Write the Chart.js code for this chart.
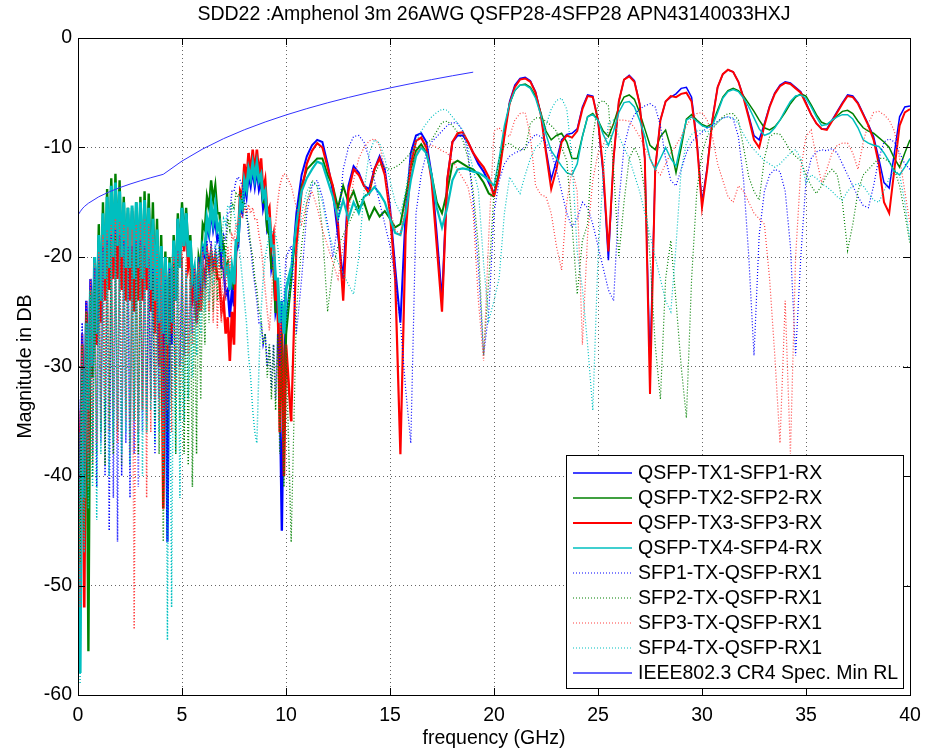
<!DOCTYPE html>
<html>
<head>
<meta charset="utf-8">
<title>SDD22 return loss</title>
<script src="https://cdn.jsdelivr.net/npm/chart.js@4.4.1/dist/chart.umd.min.js"></script>
<style>
  html, body { margin: 0; padding: 0; background: #fff; }
  canvas { display: block; }
</style>
</head>
<body>
<canvas id="rl" width="937" height="750"></canvas>
<script>
// ---------------------------------------------------------------
// SDD22 plot - values
// ---------------------------------------------------------------

const titleText = "SDD22 :Amphenol 3m 26AWG QSFP28-4SFP28 APN43140033HXJ";
const xLabel = "frequency (GHz)";
const yLabel = "Magnitude in DB";

const xTicks = [0, 5, 10, 15, 20, 25, 30, 35, 40];
const yTicks = [0, -10, -20, -30, -40, -50, -60];

const labels = [
  "QSFP-TX1-SFP1-RX", "QSFP-TX2-SFP2-RX", "QSFP-TX3-SFP3-RX", "QSFP-TX4-SFP4-RX",
  "SFP1-TX-QSFP-RX1", "SFP2-TX-QSFP-RX1", "SFP3-TX-QSFP-RX1", "SFP4-TX-QSFP-RX1",
  "IEEE802.3 CR4 Spec. Min RL"
];

// frequency grid (GHz)
const freqLow = [
  0, 0.1, 0.2, 0.3, 0.4, 0.5, 0.6, 0.7, 0.8, 0.9,
  1, 1.1, 1.2, 1.3, 1.4, 1.5, 1.6, 1.7, 1.8, 1.9,
  2, 2.1, 2.2, 2.3, 2.4, 2.5, 2.6, 2.7, 2.8, 2.9,
  3, 3.1, 3.2, 3.3, 3.4, 3.5, 3.6, 3.7, 3.8, 3.9,
  4, 4.1, 4.2, 4.3, 4.4, 4.5, 4.6, 4.7, 4.8, 4.9,
  5, 5.1, 5.2, 5.3, 5.4, 5.5, 5.6, 5.7, 5.8, 5.9,
  6, 6.1, 6.2, 6.3, 6.4, 6.5, 6.6, 6.7, 6.8, 6.9,
  7, 7.1, 7.2, 7.3, 7.4, 7.5, 7.6, 7.7, 7.8, 7.9,
  8, 8.1, 8.2, 8.3, 8.4, 8.5, 8.6, 8.7, 8.8, 8.9,
  9, 9.1, 9.2, 9.3, 9.4, 9.5, 9.6, 9.7, 9.8, 9.9,
  10
];
const freqHigh = [
  10.25, 10.5, 10.75, 11, 11.25, 11.5, 11.75, 12, 12.25, 12.5, 12.75, 13,
  13.25, 13.5, 13.75, 14, 14.25, 14.5, 14.75, 15, 15.25, 15.5, 15.75, 16,
  16.25, 16.5, 16.75, 17, 17.25, 17.5, 17.75, 18, 18.25, 18.5, 18.75, 19,
  19.25, 19.5, 19.75, 20, 20.25, 20.5, 20.75, 21, 21.25, 21.5, 21.75, 22,
  22.25, 22.5, 22.75, 23, 23.25, 23.5, 23.75, 24, 24.25, 24.5, 24.75, 25,
  25.25, 25.5, 25.75, 26, 26.25, 26.5, 26.75, 27, 27.25, 27.5, 27.75, 28,
  28.25, 28.5, 28.75, 29, 29.25, 29.5, 29.75, 30, 30.25, 30.5, 30.75, 31,
  31.25, 31.5, 31.75, 32, 32.25, 32.5, 32.75, 33, 33.25, 33.5, 33.75, 34,
  34.25, 34.5, 34.75, 35, 35.25, 35.5, 35.75, 36, 36.25, 36.5, 36.75, 37,
  37.25, 37.5, 37.75, 38, 38.25, 38.5, 38.75, 39, 39.25, 39.5, 39.75, 40
];

// QSFP-TX1 -> SFP1-RX (solid blue)
const tx1Low = [
  -33, -48, -27, -40, -24, -33, -22, -29, -20, -27,
  -18.5, -25, -17, -23, -16, -22, -15.5, -21, -15, -21,
  -15, -22, -15.5, -23, -16, -22, -15.8, -23, -15.5, -22,
  -15.5, -23, -15, -22, -15.5, -24, -17, -26, -18.5, -28,
  -20, -30, -21.5, -46, -22, -28, -19, -24, -16.5, -20,
  -15.5, -19, -16, -20.5, -19, -23, -22, -25, -22, -23,
  -19.5, -20, -17, -18, -15.8, -17.5, -16.5, -18.5, -18, -21,
  -21, -23.5, -23, -25.5, -23, -24.5, -19.5, -19, -15.5, -16,
  -13.5, -14.5, -12.5, -13.5, -12, -13.5, -12, -13.8, -13, -15.5,
  -14.5, -17.5, -17, -21, -20, -25, -24, -32, -45, -30,
  -26
];
const tx1High = [
  -22, -16, -12.5, -10.8, -9.8, -9.3, -9.5, -11.5, -14, -18, -22, -13.5,
  -11.7, -12.3, -13.5, -13.8, -12, -10.8, -12, -15.5, -21, -26, -16, -10.5,
  -8.9, -8.7, -9.5, -12.5, -18, -24, -13, -9.5, -8.9, -8.9, -9.5, -10.5,
  -11.5, -12.2, -13.2, -14.2, -12.3, -8.8, -5.8, -4.3, -3.7, -3.6, -3.9, -4.9,
  -6.9, -10.2, -12.9, -11.2, -9.3, -8.8, -8.7, -8.3, -6.3, -5.2, -5.3, -7.5,
  -12.5, -20.3, -11, -5.8, -3.8, -3.4, -3.9, -6, -11, -30, -12, -7.5,
  -5.8, -5.4, -5.1, -4.6, -4.5, -5.4, -9.3, -15, -11.8, -7.4, -4.5, -3.3,
  -2.9, -3.1, -4, -5.4, -7.1, -8.9, -9.3, -7.8, -6.2, -5, -4.3, -4,
  -4.1, -4.5, -4.9, -5.9, -7, -7.8, -8.3, -8.3, -7.5, -6.7, -5.9, -5.2,
  -5.3, -5.9, -6.9, -7.9, -9, -11, -13.2, -13.7, -10.5, -7.2, -6.3, -6.2
];

// QSFP-TX2 -> SFP2-RX (solid green)
const tx2Low = [
  -38, -50, -31, -45, -27, -56, -24, -31, -20, -28,
  -17, -25, -15, -23, -13.8, -21, -12.8, -20, -12.4, -19,
  -13, -21, -14.5, -22, -15.5, -23, -15.5, -22, -15, -23,
  -14.5, -22, -14, -21, -14.2, -22, -15, -23, -16.5, -25,
  -18, -26, -19.5, -27, -20, -25, -18, -23, -16, -20,
  -15, -18.5, -15.5, -19.5, -18, -22.5, -21.5, -24.5, -20, -21,
  -17, -17.5, -14.5, -15.5, -13, -14.8, -13.5, -16, -16, -18.5,
  -19, -21, -20.5, -22.5, -21.5, -23, -19, -18.5, -15, -15.5,
  -13, -13.8, -12, -12.5, -11.3, -12.5, -11.5, -13, -13, -15,
  -15, -17.5, -18, -21, -21, -25, -25, -31, -28, -34,
  -27
];
const tx2High = [
  -22, -17, -13.5, -12, -11.5, -11, -11, -12.5, -13.5, -15.5, -13.5, -15,
  -14, -15.5, -15, -16.5, -15.5, -16.3, -15.8, -16.5, -17.3, -17, -14.5, -12,
  -10.3, -9.7, -10.5, -12.5, -15, -16, -14, -11.5, -11.2, -11.5, -11.8, -12,
  -12.5, -13.2, -14.2, -14.5, -12, -8.5, -6, -4.8, -4.3, -4.2, -4.5, -5.3,
  -6.8, -8.5, -9.3, -8.9, -8.7, -9.5, -11, -11, -9, -7.2, -6.9, -7.5,
  -8.5, -9, -7.8, -6.3, -5.4, -5.2, -5.6, -6.8, -8.3, -9.8, -10.2, -9,
  -8.4, -10, -12.3, -10, -7.4, -7, -7.5, -7.9, -8.1, -7.8, -6.6, -5.4,
  -4.8, -4.6, -4.8, -5.3, -6, -6.7, -7.5, -8.2, -8.4, -8.1, -7.5, -6.8,
  -6, -5.4, -5.1, -5.3, -6.1, -7, -7.7, -7.9, -7.6, -7.1, -6.7, -6.6,
  -6.9, -7.6, -8.2, -8.5, -8.7, -9.1, -9.5, -10, -11, -11.8, -10.5, -9.3
];

// QSFP-TX3 -> SFP3-RX (solid red)
const tx3Low = [
  -34, -45, -28, -52, -25, -38, -23, -30, -21, -28,
  -19, -26, -17.5, -24, -16.5, -23, -16, -22, -15.5, -22,
  -16, -23, -16.5, -24, -17, -24, -17, -25, -16.5, -24,
  -16.5, -24, -16, -23, -16.5, -25, -17.5, -27, -19, -30,
  -21, -43, -22, -30, -21.5, -27, -19, -24, -17, -21,
  -16, -19.5, -16.5, -21, -20, -24, -23, -26, -23, -25,
  -21, -22, -19.5, -21, -19.5, -21, -20, -22, -22, -25,
  -24, -27, -25.5, -29.5, -25, -28, -19, -18, -14, -14.5,
  -11.5, -13, -10.5, -12.5, -10.2, -12.5, -10.2, -12.5, -11, -14,
  -13, -16, -15.5, -19, -18, -24, -22, -36, -25, -40,
  -28
];
const tx3High = [
  -35, -19, -14, -11.5, -10.3, -9.6, -10, -11.8, -13.5, -17, -24, -14,
  -12, -12.5, -13.5, -14.2, -12, -11, -12.5, -16, -22, -38, -18, -11.5,
  -9.4, -9.1, -10, -13, -19, -25, -13, -9.5, -8.7, -8.6, -9.5, -10.5,
  -11.2, -11.8, -12.7, -14.5, -12.5, -9, -6, -4.5, -3.8, -3.7, -4, -5,
  -7, -10.5, -13.8, -12, -9.5, -8.9, -9.1, -8.5, -6.5, -5.3, -5.4, -7.5,
  -12, -19.5, -11, -5.8, -3.8, -3.5, -4, -6, -11, -32.5, -12, -7.5,
  -5.8, -5.3, -5.4, -5.1, -5, -5.8, -9.5, -15.5, -12, -7.5, -4.5, -3.3,
  -2.9, -3.1, -4, -5.5, -7.3, -9.3, -10, -8, -6.3, -5.1, -4.4, -4.1,
  -4.2, -4.6, -5, -6, -7, -7.8, -8.3, -8.4, -7.6, -6.8, -6, -5.3,
  -5.4, -6, -7, -8, -9.3, -11.5, -15, -16, -12, -8, -6.8, -6.5
];

// QSFP-TX4 -> SFP4-RX (solid cyan)
const tx4Low = [
  -36, -58, -30, -42, -26, -34, -23, -30, -20, -27,
  -18, -24, -16, -22, -14.5, -21, -13.5, -20, -13.2, -19,
  -14, -20, -15, -21, -15.5, -21, -15.3, -22, -15, -21,
  -15, -22, -14.8, -21, -15.5, -23, -16.5, -24, -17.5, -26,
  -19, -27, -20, -28, -20.5, -26, -18.5, -24, -16.5, -21,
  -15.5, -19, -16, -20, -18.5, -22, -21, -24, -21, -22,
  -19, -19.5, -16.5, -17.5, -15.2, -16.8, -15.3, -17.5, -17, -19.5,
  -19.5, -21.5, -21, -23, -21, -22.5, -18.5, -18.5, -15, -15.5,
  -13, -13.8, -12, -12.8, -11.5, -12.8, -11.5, -13, -12.5, -14.5,
  -14, -16.5, -16.5, -19, -19, -22, -22, -26, -24, -27,
  -23
];
const tx4High = [
  -21, -17, -14, -12.8, -12, -11.3, -11.5, -13, -14.5, -16.5, -14.8, -16.5,
  -15, -16, -14.5, -14.2, -13.6, -14.2, -15, -16.5, -17.8, -18, -16, -13,
  -10.8, -10, -10.5, -12.5, -15.5, -17.3, -15.5, -13, -12, -11.9, -12, -12.2,
  -12.3, -12.6, -13, -13.5, -11, -8, -6, -4.8, -4.3, -4.3, -4.6, -5.5,
  -7, -8.8, -10.3, -11, -11.7, -12.3, -12.5, -11.5, -9, -7.2, -7, -7.5,
  -8.8, -9.8, -8.5, -6.8, -5.9, -5.8, -6.3, -7.5, -9, -11, -12, -11,
  -10, -11, -11.7, -9.5, -7.5, -7.2, -7.6, -8, -8.2, -8, -6.8, -5.5,
  -4.9, -4.7, -4.9, -5.5, -6.3, -7.3, -8.3, -8.9, -8.7, -8.2, -7.5, -6.6,
  -5.8, -5.3, -5.2, -5.5, -6.3, -7.2, -8, -7.9, -7.5, -7.2, -7, -7,
  -7.4, -8.2, -9.3, -9.6, -9.8, -9.9, -10.5, -11.3, -12.2, -12.5, -11.8, -11
];

// SFP1-TX -> QSFP-RX1 (dotted blue)
const sfp1Low = [
  -30, -44, -26, -42, -24, -40, -22, -38, -21, -41,
  -20, -37, -19, -40, -18.5, -45, -18, -42, -17.5, -46,
  -18, -40, -18.5, -37, -19, -42, -19, -38, -18.5, -41,
  -18.5, -36, -19, -35, -20, -33, -21, -38, -22, -33,
  -22.5, -35, -22, -37, -21, -33, -20, -31, -19.5, -30,
  -20, -29, -21, -28, -22, -27, -21, -26, -20, -24,
  -19, -23, -18.5, -22, -18.5, -21, -19, -20.5, -19, -20,
  -18, -18.5, -16, -16, -14, -14, -13, -12.7, -13, -13.5,
  -15, -15.5, -18, -19, -21, -22.5, -24, -26, -26, -28,
  -27, -30, -28, -32, -28, -33, -27, -30, -24, -24,
  -20
];
const sfp1High = [
  -19, -27, -22, -16, -13.5, -13, -14.5, -17, -20, -17, -12, -10,
  -9, -8.9, -9.5, -11, -13, -15, -17, -19, -22, -26, -32, -37,
  -16, -12.5, -10.5, -9.5, -9, -8.5, -8, -7.7, -7.8, -8.5, -10.5, -15,
  -21, -29, -25, -16, -13, -11.5, -10.8, -10.5, -10.3, -10, -9.3, -8.8,
  -9, -9.6, -10.5, -12, -14, -16, -17.3, -16.5, -15, -15.5, -17, -19,
  -21, -23, -24, -15, -10, -8, -7, -6.5, -6.2, -6, -6.3, -8,
  -11, -13, -13.5, -12, -10.5, -9.5, -9, -8.6, -8.2, -8, -7.6, -7.3,
  -7.2, -7.4, -9, -13, -20, -29, -18, -14, -12.5, -12, -12.2, -14,
  -19, -29, -20, -13, -11, -10.4, -10.2, -10.3, -10.1, -10.5, -11.5, -12.5,
  -13.5, -14.5, -15.3, -15.5, -13.5, -11, -9.5, -9.2, -9.5, -10.5, -11.5, -12
];

// SFP2-TX -> QSFP-RX1 (dotted green)
const sfp2Low = [
  -35, -48, -28, -45, -25, -42, -23, -40, -22, -38,
  -20.5, -36, -19.5, -39, -19, -35, -18.5, -38, -18, -36,
  -18.5, -39, -19, -34, -19.5, -37, -19.5, -35, -19, -38,
  -19, -34, -19.5, -36, -20.5, -33, -21.5, -35, -22.5, -38,
  -23, -46, -22.5, -36, -21.5, -34, -20.5, -38, -20, -35,
  -20, -38, -20.5, -39, -21, -41, -21.5, -38, -21, -33,
  -21, -28, -20, -26, -19.5, -25, -19.5, -24, -19, -22,
  -18, -20, -16.5, -17.5, -15, -15.5, -14.2, -14.5, -14, -15,
  -15, -16.5, -17, -19, -20, -22, -23, -25, -25.5, -28,
  -27, -31, -28, -33, -28, -34, -27, -38, -27, -41,
  -28
];
const sfp2High = [
  -46, -25, -19, -15, -13, -13.5, -17.5, -25, -21, -19, -18, -17,
  -16, -15, -14.5, -14, -12.5, -11.5, -11.8, -12, -11.8, -11.5, -11, -10.5,
  -10, -9.8, -9.6, -9.3, -8.5, -7.7, -7.6, -8, -8.6, -9.3, -11, -14,
  -19, -29, -22, -14, -11, -9.8, -9.6, -10, -10.2, -10.2, -7.8, -7.3,
  -7.3, -7.6, -8, -8.5, -10, -11.2, -17, -23.4, -18.5, -17, -9, -6,
  -5.7, -6.2, -12, -20, -15, -11, -10, -11, -14, -20, -28, -33,
  -22, -18.5, -24, -30, -34.7, -22, -14, -10.5, -9, -8.3, -7.7, -7.2,
  -6.9, -6.9, -7.5, -10, -12.7, -14, -14.8, -11, -9, -8.7, -8.8, -9.5,
  -10.3, -10.8, -11.2, -12.5, -13.5, -14.2, -13.5, -12.5, -12, -12.5, -15, -19.4,
  -17, -14, -12.5, -12, -11.5, -11, -11, -11.3, -12, -13.5, -16, -18.8
];

// SFP3-TX -> QSFP-RX1 (dotted red)
const sfp3Low = [
  -33, -52, -27, -44, -24, -41, -22, -39, -20.5, -37,
  -19.5, -35, -18, -33, -17.5, -36, -17, -34, -16.5, -37,
  -16.8, -33, -17, -35, -17.3, -38, -17.5, -54, -17, -36,
  -16.8, -34, -16.5, -42, -17, -36, -18, -33, -19.5, -35,
  -21, -38, -21.5, -34, -21, -36, -20, -33, -19.5, -32,
  -19.5, -30, -20, -29, -21, -28, -21, -26.5, -20.5, -25,
  -19.5, -24, -19, -25, -19, -26, -19.5, -26.5, -20, -26,
  -20, -24, -19, -21, -18, -18.5, -17, -17, -16, -16.5,
  -15.5, -16, -15.2, -16, -15.5, -16.5, -16.5, -18, -19, -21,
  -23, -25, -26.7, -24, -20, -17, -15, -13.5, -12.8, -12.4,
  -12.5
];
const sfp3High = [
  -13.5, -15.5, -17, -15, -14, -15.5, -17.5, -19, -20.5, -22, -19, -16,
  -13, -11, -10, -9.4, -9.2, -9.8, -12, -15.7, -17.5, -18, -15, -12,
  -10.5, -10, -9.8, -9.8, -10, -10.3, -10.5, -11.2, -12, -12.8, -13.6, -16,
  -24, -29.5, -18, -8.5, -8.2, -8.8, -9, -7.5, -6.9, -6.8, -9, -13.5,
  -14.3, -14.5, -16, -19, -21.2, -15, -12, -14, -28, -18, -13, -10.5,
  -9.8, -8.5, -7.8, -7.5, -7.5, -7.6, -8.2, -9, -10, -11, -12, -12.5,
  -11.5, -10.5, -9.8, -9, -8, -7.3, -6.9, -6.8, -7.5, -9, -11.5, -13,
  -14.5, -15, -13.5, -14, -15, -16, -16.5, -17, -22, -29, -37, -24,
  -38, -20, -12, -9, -8.4, -11, -13.2, -12, -10.5, -9.8, -9.6, -9.6,
  -10.5, -12, -9.5, -7.8, -6.8, -6.7, -7, -7.5, -8.5, -11, -14, -17
];

// SFP4-TX -> QSFP-RX1 (dotted cyan)
const sfp4Low = [
  -38, -59, -29, -47, -26, -43, -23.5, -41, -22, -44,
  -20.5, -38, -19.5, -36, -19, -40, -18.5, -37, -18.5, -35,
  -18.5, -38, -19, -36, -19, -39, -19.5, -35, -19, -37,
  -19, -40, -19.5, -36, -20, -34, -21, -37, -22, -36,
  -22.5, -40, -22, -55, -21.5, -52, -21, -38, -20.5, -42,
  -21, -35, -21.5, -33, -22, -31, -22, -29, -21, -27,
  -20, -25, -19.5, -24, -19, -22.5, -18.5, -21, -17.5, -19,
  -16.5, -17, -15.3, -15.5, -15.2, -16, -17, -18.5, -20, -22,
  -24, -26, -29, -31, -34, -36, -37, -30, -25, -22,
  -20, -19, -18, -17.5, -17.8, -18, -19, -21, -24, -27,
  -26
];
const sfp4High = [
  -22, -20, -16, -14, -13.2, -13.5, -15, -17.5, -19, -20.5, -21.5, -22.5,
  -23.4, -20, -14, -10.5, -9.3, -9.6, -11, -13, -15, -16, -14, -11,
  -9.5, -8.5, -7.8, -7.2, -6.8, -6.5, -6.6, -7.2, -7.8, -8.4, -10, -12,
  -13.9, -20.6, -25.8, -24, -21.9, -16, -12.7, -13.5, -14.2, -12.5, -11, -10,
  -9.6, -8, -6.5, -5.7, -5.5, -6.5, -11, -19.5, -22.9, -28, -34, -20,
  -12.4, -7.8, -7.5, -9, -10, -11, -12.5, -14, -16, -18, -20, -22,
  -24, -25, -19, -12, -9.6, -8.8, -8.5, -8.4, -8.6, -8.2, -7.7, -7.3,
  -7.2, -7.3, -7.8, -8.8, -9.6, -10.2, -10.7, -11.2, -11.5, -11.8, -11.5, -11,
  -10.5, -10.2, -11, -13.3, -12.5, -12.8, -13.3, -13.6, -14, -14.5, -14.8, -14,
  -13.5, -13.3, -13.5, -14.2, -14.8, -15, -14, -12.8, -12, -12.5, -15, -18.5
];

// IEEE 802.3 CR4 minimum return loss mask
const freqSpec = [0.05, 0.1, 0.2, 0.3, 0.5, 1, 1.5, 2, 2.5, 3, 3.5, 4.1, 5, 6, 7, 8, 9, 10, 11, 12, 13, 14, 15, 16, 17, 18, 19];
const specRL = [-16.05, -15.87, -15.61, -15.4, -15.09, -14.5, -14.05, -13.67, -13.34, -13.04, -12.76, -12.45, -11.24, -10.13, -9.19, -8.38, -7.67, -7.03, -6.45, -5.92, -5.43, -4.98, -4.56, -4.17, -3.8, -3.45, -3.12];

// ---------------------------------------------------------------
const FONT = '"Liberation Sans", Arial, Helvetica, sans-serif';

function toPoints(low, high) {
  const pts = [];
  freqLow.forEach((f, i) => pts.push({ x: f, y: low[i] }));
  freqHigh.forEach((f, i) => pts.push({ x: f, y: high[i] }));
  return pts;
}

// line looks: widths for the fast-ripple band (< 10.3 GHz), the mid band (< 20 GHz) and the rest
const styles = [
  { color: "#0000ff", dash: [], w: [2.4, 2, 1.5], key: 1.5 },
  { color: "#008000", dash: [], w: [2.4, 2, 1.5], key: 1.5 },
  { color: "#ff0000", dash: [], w: [2.6, 2.2, 2], key: 2 },
  { color: "#00bfbf", dash: [], w: [3, 2.2, 1.5], key: 1.5 },
  { color: "#0000ff", dash: [1, 2], w: [1.5, 1.2, 1.2], key: 1.2 },
  { color: "#008000", dash: [1, 2], w: [1.5, 1.2, 1.2], key: 1.2 },
  { color: "#ff4040", dash: [1, 2], w: [1.5, 1.2, 1.2], key: 1.2 },
  { color: "#00c0c0", dash: [1, 2], w: [1.5, 1.2, 1.2], key: 1.2 },
  { color: "#3232ff", dash: [], w: [1, 1, 1], key: 1.5 }
];

const seriesData = [
  toPoints(tx1Low, tx1High),
  toPoints(tx2Low, tx2High),
  toPoints(tx3Low, tx3High),
  toPoints(tx4Low, tx4High),
  toPoints(sfp1Low, sfp1High),
  toPoints(sfp2Low, sfp2High),
  toPoints(sfp3Low, sfp3High),
  toPoints(sfp4Low, sfp4High),
  freqSpec.map((f, i) => ({ x: f, y: specRL[i] }))
];

const bandWidth = (w, x) => (x <= 10.3 ? w[0] : x <= 20 ? w[1] : w[2]);

const datasets = seriesData.map((data, i) => ({
  label: labels[i],
  data,
  borderColor: styles[i].color,
  borderDash: styles[i].dash,
  borderWidth: styles[i].w[2],
  segment: {
    borderWidth: c => bandWidth(styles[i].w, c.p1.parsed.x)
  },
  pointRadius: 0,
  tension: 0,
  fill: false,
  order: 9 - i // later series on top, like the original plot
}));

// frame, inward ticks, texts and the boxed legend
const decorations = {
  id: "decorations",
  afterDraw(chart) {
    const { ctx, chartArea: a, scales } = chart;
    const line = (x1, y1, x2, y2) => {
      ctx.beginPath(); ctx.moveTo(x1, y1); ctx.lineTo(x2, y2); ctx.stroke();
    };
    ctx.save();
    ctx.strokeStyle = "#000";
    ctx.lineWidth = 1;
    ctx.setLineDash([]);

    // legend box
    const lx = 566, ly = 455, lw = 337, lh = 233;
    ctx.fillStyle = "#fff";
    ctx.fillRect(lx, ly, lw, lh);
    ctx.strokeRect(lx + 0.5, ly + 0.5, lw, lh);
    ctx.font = "19.5px " + FONT;
    ctx.textAlign = "left";
    ctx.textBaseline = "middle";
    for (let i = 0; i < labels.length; i++) {
      const yy = Math.round(ly + 18 + i * 25);
      ctx.strokeStyle = styles[i].color;
      ctx.lineWidth = styles[i].key;
      ctx.setLineDash(styles[i].dash);
      line(573, yy, 632, yy);
      ctx.setLineDash([]);
      ctx.fillStyle = "#000";
      ctx.fillText(labels[i], 638, yy + 1);
    }

    // plot frame + inward tick marks on all four sides
    ctx.strokeStyle = "#000";
    ctx.lineWidth = 1;
    ctx.strokeRect(a.left + 0.5, a.top + 0.5, a.right - a.left, a.bottom - a.top);
    xTicks.forEach(v => {
      const px = Math.round(scales.x.getPixelForValue(v)) + 0.5;
      line(px, a.bottom, px, a.bottom - 7);
      line(px, a.top, px, a.top + 7);
    });
    yTicks.forEach(v => {
      const py = Math.round(scales.y.getPixelForValue(v)) + 0.5;
      line(a.left, py, a.left + 7, py);
      line(a.right, py, a.right - 7, py);
    });

    // title and axis labels
    ctx.fillStyle = "#000";
    ctx.font = "19.5px " + FONT;
    ctx.textAlign = "center";
    ctx.textBaseline = "middle";
    const cx = (a.left + a.right) / 2;
    ctx.fillText(titleText, cx, 15);
    ctx.fillText(xLabel, cx, 739);
    ctx.translate(26, (a.top + a.bottom) / 2);
    ctx.rotate(-Math.PI / 2);
    ctx.fillText(yLabel, 0, 0);
    ctx.restore();
  }
};

new Chart(document.getElementById("rl"), {
  type: "line",
  data: { datasets },
  options: {
    responsive: false,
    devicePixelRatio: 1,
    animation: false,
    normalized: true,
    layout: { padding: { top: 38, right: 27, left: 0, bottom: 0 } },
    plugins: {
      legend: { display: false },
      title: { display: false },
      tooltip: { enabled: false }
    },
    scales: {
      x: {
        type: "linear",
        min: 0,
        max: 40,
        afterFit: s => { s.height = 55; },
        afterBuildTicks: s => { s.ticks = xTicks.map(v => ({ value: v })); },
        ticks: { color: "#000", font: { size: 19.5, family: FONT }, padding: 9, maxRotation: 0 },
        grid: { color: "rgba(0,0,0,0.6)", lineWidth: 1, drawTicks: false },
        border: { display: true, color: "#000", width: 1, dash: [1, 3] }
      },
      y: {
        type: "linear",
        min: -60,
        max: 0,
        afterFit: s => { s.width = 78; },
        afterBuildTicks: s => { s.ticks = yTicks.map(v => ({ value: v })); },
        ticks: { color: "#000", font: { size: 19.5, family: FONT }, padding: 6 },
        grid: { color: "rgba(0,0,0,0.6)", lineWidth: 1, drawTicks: false },
        border: { display: true, color: "#000", width: 1, dash: [1, 3] }
      }
    }
  },
  plugins: [decorations]
});
</script>
</body>
</html>
